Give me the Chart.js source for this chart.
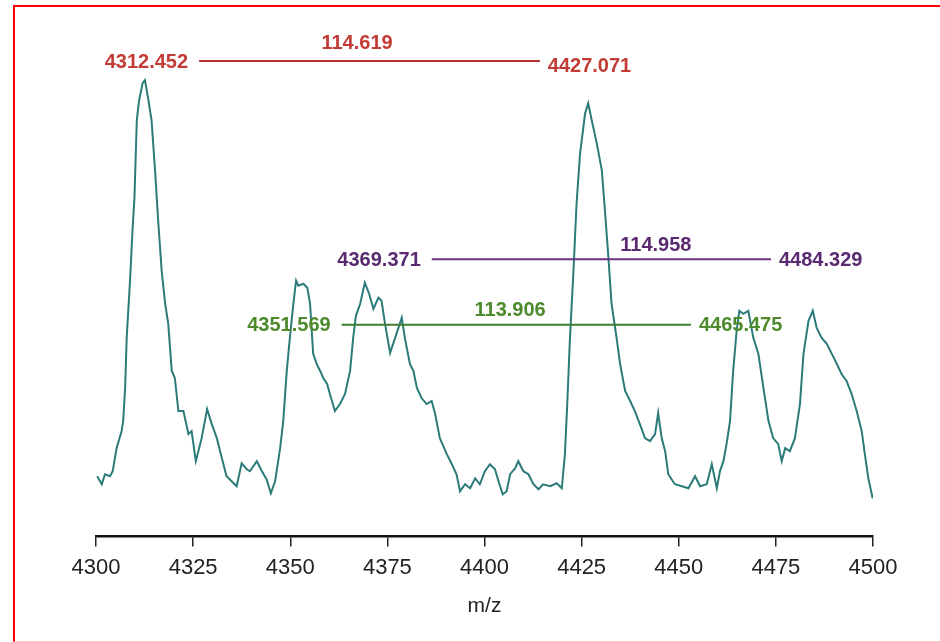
<!DOCTYPE html>
<html>
<head>
<meta charset="utf-8">
<script src="https://cdn.jsdelivr.net/npm/chart.js@4.4.1/dist/chart.umd.min.js"></script>
<style>
  html, body { margin: 0; padding: 0; background: #fff; }
  #wrap { position: relative; width: 940px; height: 642px; overflow: hidden; }
  #frame {
    position: absolute; left: 13px; top: 5px; width: 940px; height: 634px;
    border-top: 2px solid #f00; border-left: 2px solid #f00; border-bottom: 1px solid #f6c6c6;
    pointer-events: none;
  }
</style>
</head>
<body>
<div id="wrap">
  <canvas id="spectrum" width="940" height="642"></canvas>
  <div id="frame"></div>
</div>
<script>
// spectrum trace (m/z, relative intensity)
var mz = [
  4300.3, 4301.5, 4302.3, 4303.6, 4304.3, 4305.3, 4306.6, 4307.0, 4307.5, 4307.9,
  4308.8, 4309.4, 4309.9, 4310.5, 4311.1, 4312.0, 4312.6, 4313.5, 4314.3, 4315.2,
  4316.0, 4316.9, 4317.8, 4318.6, 4319.5, 4320.3, 4321.2, 4322.5, 4323.8, 4324.6,
  4325.7, 4327.2, 4328.6, 4329.8, 4331.1, 4332.4, 4333.6, 4334.9, 4336.2, 4337.5,
  4338.8, 4339.6, 4341.4, 4342.7, 4343.9, 4345.0, 4346.1, 4347.4, 4348.2, 4349.1,
  4349.9, 4350.8, 4351.5, 4352.1, 4353.4, 4354.4, 4355.1, 4355.9, 4356.8, 4357.7,
  4358.5, 4359.5, 4360.2, 4361.5, 4362.8, 4364.1, 4365.4, 4366.2, 4366.9, 4368.0,
  4369.2, 4370.3, 4371.4, 4372.7, 4373.5, 4374.4, 4375.7, 4377.0, 4378.7, 4379.5,
  4380.8, 4381.7, 4382.6, 4383.8, 4385.1, 4386.4, 4387.3, 4388.5, 4390.3, 4391.6,
  4392.8, 4393.7, 4395.0, 4396.3, 4397.6, 4398.8, 4400.1, 4401.4, 4402.7, 4403.6,
  4404.7, 4405.7, 4406.6, 4407.9, 4408.7, 4410.0, 4411.3, 4412.6, 4413.9, 4415.1,
  4416.9, 4418.6, 4419.9, 4420.7, 4421.3, 4422.0, 4422.9, 4423.7, 4424.6, 4425.9,
  4426.7, 4427.6, 4428.9, 4430.2, 4431.0, 4431.9, 4432.7, 4434.0, 4434.9, 4436.2,
  4437.5, 4438.7, 4440.0, 4441.3, 4442.6, 4443.9, 4444.7, 4445.6, 4446.5, 4447.3,
  4449.0, 4450.8, 4452.5, 4454.2, 4455.5, 4457.2, 4458.5, 4459.8, 4460.6, 4461.5,
  4462.3, 4463.2, 4464.0, 4464.9, 4465.6, 4466.6, 4467.9, 4469.2, 4470.5, 4471.8,
  4473.1, 4474.3, 4475.6, 4476.5, 4477.4, 4478.6, 4479.9, 4481.2, 4482.1, 4483.4,
  4484.5, 4485.5, 4486.8, 4488.1, 4489.4, 4490.7, 4491.9, 4493.2, 4494.5, 4495.8,
  4497.1, 4497.9, 4498.8, 4499.9
];
var intensity = [
  60, 52, 62, 60, 65, 88, 105, 115, 148, 198,
  258, 305, 338, 415, 435, 452, 455, 435, 415, 365,
  315, 265, 232, 212, 165, 158, 125, 125, 102, 105,
  75, 98, 127, 112, 98, 78, 60, 55, 50, 73,
  67, 65, 75, 65, 57, 43, 55, 88, 115, 165,
  198, 232, 255, 250, 252, 248, 232, 182, 172, 165,
  158, 152, 142, 125, 132, 142, 165, 198, 220, 232,
  253, 242, 227, 238, 235, 212, 183, 198, 218, 198,
  172, 165, 148, 138, 132, 135, 122, 98, 82, 72,
  62, 45, 52, 48, 58, 52, 65, 72, 67, 55,
  42, 45, 62, 68, 75, 65, 62, 52, 47, 52,
  50, 53, 48, 82, 132, 198, 265, 332, 382, 422,
  432, 415, 392, 365, 325, 278, 232, 198, 172, 145,
  135, 125, 112, 98, 95, 102, 123, 98, 85, 62,
  52, 50, 48, 60, 50, 52, 72, 48, 65, 75,
  92, 115, 165, 205, 225, 222, 225, 198, 182, 148,
  115, 98, 92, 75, 88, 85, 98, 132, 182, 215,
  225, 208, 198, 192, 182, 172, 162, 155, 142, 125,
  105, 82, 58, 38
];

// peak pairs marked on the figure
var peakLeft = [4312.452, 4369.371, 4351.569];
var peakRight = [4427.071, 4484.329, 4465.475];
var xTicks = [4300, 4325, 4350, 4375, 4400, 4425, 4450, 4475, 4500];

var points = mz.map(function(x, i) { return { x: x, y: intensity[i] }; });

// where the marker lines sit on the chart
var markers = [
  { level: 474,   leftEnd: 4323.7, rightStart: 4416.3, mid: 4367.2, raise: 18, rightDy: 4,
    text: '#c23b35', line: '#b3302c' },
  { level: 276.5, leftEnd: 4383.6, rightStart: 4475.8, mid: 4444.1, raise: 14, rightDy: 0,
    text: '#5a2a70', line: '#6c3088' },
  { level: 211,   leftEnd: 4360.4, rightStart: 4455.2, mid: 4406.6, raise: 14, rightDy: 0,
    text: '#4c8a2c', line: '#3e7e2e' }
];

var markerPlugin = {
  id: 'peakMarkers',
  afterDatasetsDraw: function(chart) {
    var ctx = chart.ctx;
    var xs = chart.scales.x, ys = chart.scales.y;
    ctx.save();
    ctx.font = 'bold 20px "Liberation Sans", Arial, sans-serif';
    ctx.textBaseline = 'middle';
    markers.forEach(function(m, i) {
      var y = ys.getPixelForValue(m.level);
      var lx = xs.getPixelForValue(m.leftEnd);
      var rx = xs.getPixelForValue(m.rightStart);
      var gap = 11;
      ctx.strokeStyle = m.line;
      ctx.lineWidth = 2;
      ctx.beginPath();
      ctx.moveTo(lx + gap, y);
      ctx.lineTo(rx - gap + 3, y);
      ctx.stroke();
      ctx.fillStyle = m.text;
      ctx.textAlign = 'right';
      ctx.fillText(peakLeft[i].toFixed(3), lx, y + 1);
      ctx.textAlign = 'left';
      ctx.fillText(peakRight[i].toFixed(3), rx, y + 1 + m.rightDy);
      ctx.textAlign = 'center';
      ctx.fillText((peakRight[i] - peakLeft[i]).toFixed(3), xs.getPixelForValue(m.mid), y - m.raise);
    });
    ctx.restore();
  }
};

new Chart(document.getElementById('spectrum').getContext('2d'), {
  type: 'scatter',
  data: {
    datasets: [{
      label: 'spectrum',
      data: points,
      showLine: true,
      borderColor: '#2b7b79',
      borderWidth: 2,
      pointRadius: 0,
      tension: 0,
      fill: false
    }]
  },
  options: {
    responsive: false,
    animation: false,
    layout: { padding: { left: 96, right: 67, top: 20, bottom: 19 } },
    plugins: {
      legend: { display: false },
      tooltip: { enabled: false }
    },
    scales: {
      x: {
        type: 'linear',
        min: 4300,
        max: 4500,
        afterBuildTicks: function(axis) {
          axis.ticks = xTicks.map(function(v) { return { value: v }; });
        },
        grid: { drawOnChartArea: false, drawTicks: true, tickLength: 10, color: '#222', lineWidth: 1.5 },
        border: { display: true, color: '#111', width: 2.5 },
        ticks: {
          padding: 8,
          color: '#222',
          maxRotation: 0,
          callback: function(v) { return String(v); },
          font: { family: '"Liberation Sans", Arial, sans-serif', size: 22 }
        },
        title: {
          display: true,
          text: 'm/z',
          color: '#222',
          padding: { top: 5, bottom: 4 },
          font: { family: '"Liberation Sans", Arial, sans-serif', size: 21 }
        }
      },
      y: {
        display: false,
        min: 0,
        max: 515
      }
    }
  },
  plugins: [markerPlugin]
});
</script>
</body>
</html>
